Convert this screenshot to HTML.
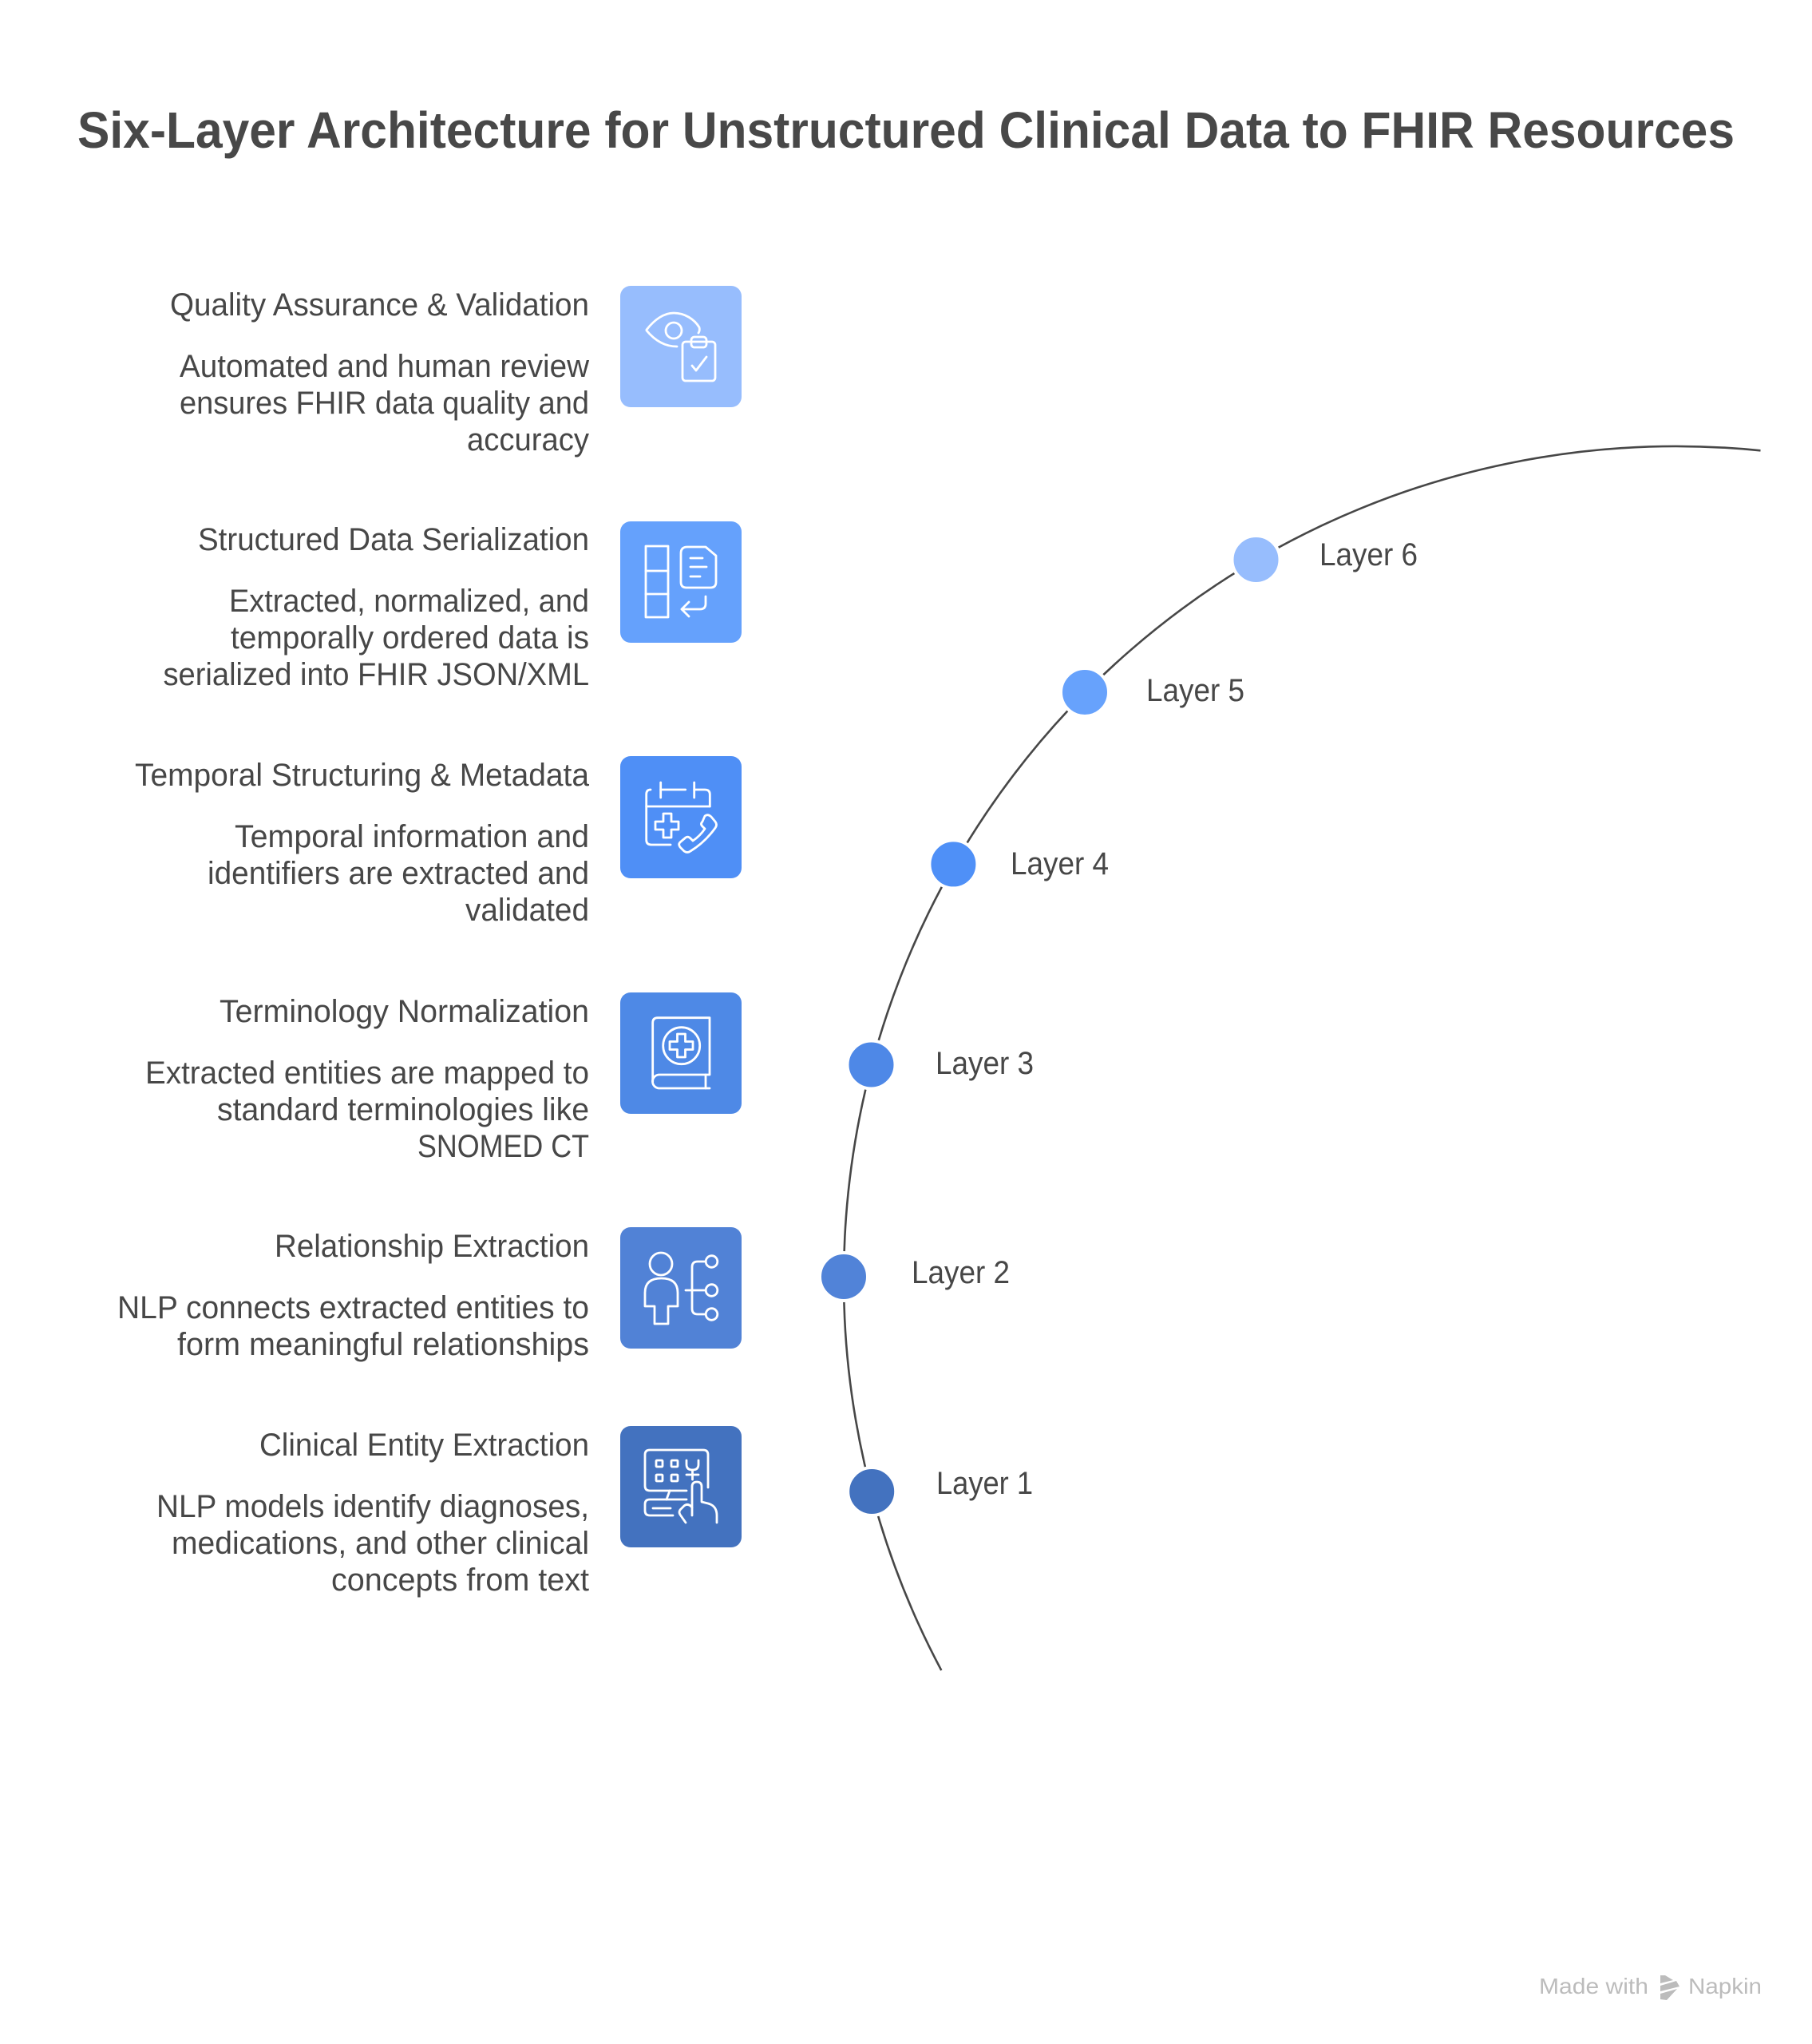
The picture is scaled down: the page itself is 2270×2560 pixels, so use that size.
<!DOCTYPE html>
<html>
<head>
<meta charset="utf-8">
<style>
  html, body { margin: 0; padding: 0; background: #ffffff; }
  svg { display: block; }
  .t { font-family: "Liberation Sans", Arial, sans-serif; fill: #474747; }
  .ic { fill: none; stroke: #ffffff; stroke-width: 2.8; stroke-linecap: round; stroke-linejoin: round; }
</style>
</head>
<body>
<svg width="2270" height="2560" viewBox="0 0 2270 2560" xmlns="http://www.w3.org/2000/svg">
  <rect x="0" y="0" width="2270" height="2560" fill="#ffffff"/>

  <!-- Title -->
  <text class="t" x="97" y="185" font-size="64" font-weight="bold" style="fill:#484848" textLength="2076" lengthAdjust="spacingAndGlyphs">Six-Layer Architecture for Unstructured Clinical Data to FHIR Resources</text>

  <!-- Arc -->
  <path d="M 2205.5 564.3 A 1043 1043 0 0 0 1179.3 2092" fill="none" stroke="#474747" stroke-width="2.6"/>

  <!-- Dots -->
  <g stroke="#ffffff" stroke-width="4">
    <circle cx="1573.5" cy="701" r="30" fill="#97BDFD"/>
    <circle cx="1359" cy="867" r="30" fill="#67A2FC"/>
    <circle cx="1194.4" cy="1082.4" r="30" fill="#4F90F7"/>
    <circle cx="1091.5" cy="1333.5" r="30" fill="#4E88E7"/>
    <circle cx="1057" cy="1599" r="30" fill="#5183D8"/>
    <circle cx="1092.2" cy="1868" r="30" fill="#4372BF"/>
  </g>

  <!-- Layer labels -->
  <g class="t" font-size="40">
    <text x="1653" y="708" textLength="123" lengthAdjust="spacingAndGlyphs">Layer 6</text>
    <text x="1436" y="878" textLength="123" lengthAdjust="spacingAndGlyphs">Layer 5</text>
    <text x="1266" y="1095" textLength="123" lengthAdjust="spacingAndGlyphs">Layer 4</text>
    <text x="1172" y="1345" textLength="123" lengthAdjust="spacingAndGlyphs">Layer 3</text>
    <text x="1142" y="1607" textLength="123" lengthAdjust="spacingAndGlyphs">Layer 2</text>
    <text x="1173" y="1871" textLength="121" lengthAdjust="spacingAndGlyphs">Layer 1</text>
  </g>

  <!-- Boxes -->
  <rect x="777" y="358" width="152" height="152" rx="13" fill="#97BDFD"/>
  <rect x="777" y="653" width="152" height="152" rx="13" fill="#65A1FC"/>
  <rect x="777" y="947" width="152" height="153" rx="13" fill="#4F8FF6"/>
  <rect x="777" y="1243" width="152" height="152" rx="13" fill="#4E89E6"/>
  <rect x="777" y="1537" width="152" height="152" rx="13" fill="#5182D6"/>
  <rect x="777" y="1786" width="152" height="152" rx="13" fill="#4372BF"/>

  <!-- Text blocks -->
  <g class="t" font-size="40">
    <!-- QA -->
    <text x="213" y="395" textLength="525" lengthAdjust="spacingAndGlyphs">Quality Assurance &amp; Validation</text>
    <text x="225" y="472" textLength="513" lengthAdjust="spacingAndGlyphs">Automated and human review</text>
    <text x="225" y="518" textLength="513" lengthAdjust="spacingAndGlyphs">ensures FHIR data quality and</text>
    <text x="585" y="564" textLength="153" lengthAdjust="spacingAndGlyphs">accuracy</text>

    <!-- Structured -->
    <text x="248" y="689" textLength="490" lengthAdjust="spacingAndGlyphs">Structured Data Serialization</text>
    <text x="287" y="766" textLength="451" lengthAdjust="spacingAndGlyphs">Extracted, normalized, and</text>
    <text x="289" y="812" textLength="449" lengthAdjust="spacingAndGlyphs">temporally ordered data is</text>
    <text x="204.5" y="858" textLength="533.5" lengthAdjust="spacingAndGlyphs">serialized into FHIR JSON/XML</text>

    <!-- Temporal -->
    <text x="169" y="984" textLength="569" lengthAdjust="spacingAndGlyphs">Temporal Structuring &amp; Metadata</text>
    <text x="294" y="1061" textLength="444" lengthAdjust="spacingAndGlyphs">Temporal information and</text>
    <text x="260" y="1107" textLength="478" lengthAdjust="spacingAndGlyphs">identifiers are extracted and</text>
    <text x="583" y="1153" textLength="155" lengthAdjust="spacingAndGlyphs">validated</text>

    <!-- Terminology -->
    <text x="275" y="1280" textLength="463" lengthAdjust="spacingAndGlyphs">Terminology Normalization</text>
    <text x="182" y="1357" textLength="556" lengthAdjust="spacingAndGlyphs">Extracted entities are mapped to</text>
    <text x="272" y="1403" textLength="466" lengthAdjust="spacingAndGlyphs">standard terminologies like</text>
    <text x="523" y="1449" textLength="215" lengthAdjust="spacingAndGlyphs">SNOMED CT</text>

    <!-- Relationship -->
    <text x="344" y="1574" textLength="394" lengthAdjust="spacingAndGlyphs">Relationship Extraction</text>
    <text x="147" y="1651" textLength="591" lengthAdjust="spacingAndGlyphs">NLP connects extracted entities to</text>
    <text x="222" y="1697" textLength="516" lengthAdjust="spacingAndGlyphs">form meaningful relationships</text>

    <!-- Clinical -->
    <text x="325" y="1823" textLength="413" lengthAdjust="spacingAndGlyphs">Clinical Entity Extraction</text>
    <text x="196" y="1900" textLength="542" lengthAdjust="spacingAndGlyphs">NLP models identify diagnoses,</text>
    <text x="215" y="1946" textLength="523" lengthAdjust="spacingAndGlyphs">medications, and other clinical</text>
    <text x="415" y="1992" textLength="323" lengthAdjust="spacingAndGlyphs">concepts from text</text>
  </g>

  <!-- Icon: QA (eye + clipboard) -->
  <g class="ic" transform="translate(770,350)">
    <path d="M 40 63 C 50 50, 62 42, 74 42 C 88 42, 100 50, 106 60 Q 107 64 105 67"/>
    <path d="M 40 64 C 50 76, 62 84, 78 84"/>
    <circle cx="74" cy="64" r="10"/>
    <rect x="85" y="78" width="41" height="49" rx="4"/>
    <rect x="96" y="72" width="19" height="13" rx="4"/>
    <polyline points="97,108 102,114 115,97"/>
  </g>

  <!-- Icon: Structured (columns + doc + return arrow) -->
  <g class="ic" transform="translate(770,653)">
    <rect x="39" y="31" width="28" height="89"/>
    <line x1="39" y1="62" x2="67" y2="62"/>
    <line x1="39" y1="91" x2="67" y2="91"/>
    <path d="M 83 40 Q 83 32 91 32 L 114 32 L 127 43 L 127 76 Q 127 83 120 83 L 90 83 Q 83 83 83 76 Z"/>
    <line x1="95" y1="46" x2="110" y2="46"/>
    <line x1="95" y1="57" x2="115" y2="57"/>
    <line x1="95" y1="69" x2="107" y2="69"/>
    <path d="M 114 94 L 114 103 Q 114 110 107 110 L 84 110"/>
    <path d="M 93 101 L 84 110 L 93 119"/>
  </g>

  <!-- Icon: Temporal (calendar + cross + phone) -->
  <g class="ic" transform="translate(777,947)">
    <path d="M 38 42 Q 32.7 42 32.7 48 L 32.7 105 Q 32.7 111 39 111 L 63 111"/>
    <line x1="50.7" y1="33" x2="50.7" y2="52"/>
    <line x1="50.7" y1="42" x2="81.7" y2="42"/>
    <line x1="92.7" y1="33" x2="92.7" y2="52"/>
    <path d="M 92.7 42 L 106 42 Q 112.3 42 112.3 48 L 112.3 63"/>
    <line x1="32.7" y1="63" x2="112.3" y2="63"/>
    <path d="M 54 72 H 64 V 82 H 73 V 92 H 64 V 102 H 54 V 92 H 44 V 82 H 54 Z"/>
    <path d="M 106 75 Q 110 72 114 76 L 119 82 Q 122 86 119 90 Q 106 108 88 119 Q 84 122 80 119 L 75 114 Q 72 110 76 107 L 82 102 Q 85 100 88 103 L 91 106 Q 100 100 106 91 L 103 88 Q 100 85 103 82 Z"/>
  </g>

  <!-- Icon: Terminology (medical book) -->
  <g class="ic" transform="translate(777,1243)">
    <path d="M 112 102 L 112 31.7 L 47 31.7 Q 40.7 31.7 40.7 38 L 40.7 111.5"/>
    <path d="M 112 103 L 49 103 A 8.5 8.5 0 0 0 49 120 L 112 120"/>
    <line x1="107" y1="103" x2="107" y2="120"/>
    <circle cx="76.7" cy="66.7" r="23"/>
    <path d="M 71.5 52 H 81.5 V 61.5 H 91 V 71.5 H 81.5 V 81 H 71.5 V 71.5 H 62 V 61.5 H 71.5 Z"/>
  </g>

  <!-- Icon: Relationship (person + tree) -->
  <g class="ic" transform="translate(777,1537)">
    <circle cx="51" cy="46" r="14"/>
    <path d="M 43 121 L 43 99 L 31 99 L 31 82 Q 31 64 51.5 64 Q 72 64 72 82 L 72 99 L 60 99 L 60 121 Z"/>
    <line x1="82" y1="79" x2="107" y2="79"/>
    <path d="M 107 43 L 97 43 Q 90 43 90 50 L 90 102 Q 90 109 97 109 L 107 109"/>
    <circle cx="114.5" cy="43" r="7.3"/>
    <circle cx="114.5" cy="79" r="7.3"/>
    <circle cx="114.5" cy="109" r="7.3"/>
  </g>

  <!-- Icon: Clinical (monitor + hand) -->
  <g class="ic" transform="translate(777,1786)">
    <path d="M 83 81 L 37 81 Q 31 81 31 75 L 31 36 Q 31 30 37 30 L 104 30 Q 110 30 110 36 L 110 77"/>
    <rect x="45" y="43" width="8" height="8" rx="1"/>
    <rect x="64" y="43" width="8" height="8" rx="1"/>
    <rect x="45" y="61" width="8" height="8" rx="1"/>
    <rect x="64" y="61" width="8" height="8" rx="1"/>
    <path d="M 83 43 L 83 48 Q 83 55 90.5 55 Q 98 55 98 48 L 98 43"/>
    <line x1="90.5" y1="55" x2="90.5" y2="67"/>
    <line x1="83" y1="61" x2="98" y2="61"/>
    <line x1="62" y1="81" x2="58" y2="92"/>
    <path d="M 83 92 L 37 92 Q 31 92 31 98 L 31 106 Q 31 112 37 112 L 66 112"/>
    <line x1="41" y1="103" x2="63" y2="103"/>
    <path d="M 90 112 L 90 76 Q 90 70 96 70 Q 102 70 102 76 L 102 95 L 110 97 Q 121 100 121 112 L 121 121"/>
    <path d="M 90 102 Q 85 96 80 100 L 75 105 Q 73 108 75 111 L 82 121"/>
  </g>

  <!-- Footer -->
  <g>
    <text class="t" x="1928" y="2497" font-size="28" style="fill:#bcbcbc" textLength="137" lengthAdjust="spacingAndGlyphs">Made with</text>
    <g fill="#bcbcbc">
      <polygon points="2080,2474 2086,2474 2096,2480 2080,2484"/>
      <polygon points="2080,2487 2100,2481 2104,2488 2080,2494"/>
      <polygon points="2080,2497 2101,2491 2088,2505 2080,2504"/>
    </g>
    <text class="t" x="2115" y="2497" font-size="28" style="fill:#bcbcbc" textLength="92" lengthAdjust="spacingAndGlyphs">Napkin</text>
  </g>
</svg>
</body>
</html>
